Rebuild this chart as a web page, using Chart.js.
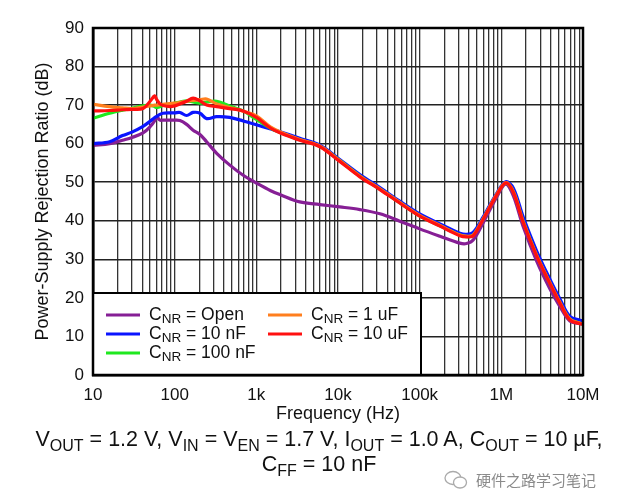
<!DOCTYPE html>
<html>
<head>
<meta charset="utf-8">
<script src="https://cdn.jsdelivr.net/npm/chart.js@4.4.0/dist/chart.umd.min.js"></script>
<style>
  body { margin: 0; background: #fff; width: 623px; height: 499px; position: relative; overflow: hidden; font-family: "Liberation Sans", Arial, sans-serif; }
  #wrap { position: absolute; left: 0; top: 0; width: 623px; height: 430px; }
  #caption { position: absolute; left: 0; top: 427px; width: 638px; text-align: center; font-size: 21.5px; line-height: 25px; color: #111; }
  #caption sub { font-size: 16px; vertical-align: -5px; line-height: 0; }
  #mark { position: absolute; left: 444px; top: 469px; font-family: "Noto Sans CJK SC", sans-serif; font-size: 15px; color: #8a8a8a; display: flex; align-items: center; }
  #mark svg { margin-right: 8px; }
</style>
</head>
<body>
<div id="wrap"><canvas id="canvasChart" width="623" height="430"></canvas></div>
<div id="caption">V<sub>OUT</sub> = 1.2 V, V<sub>IN</sub> = V<sub>EN</sub> = 1.7 V, I<sub>OUT</sub> = 1.0 A, C<sub>OUT</sub> = 10 µF,<br>C<sub>FF</sub> = 10 nF</div>
<div id="mark"><svg width="24" height="20" viewBox="0 0 24 20"><ellipse cx="9" cy="8" rx="8" ry="6.5" fill="none" stroke="#aaa" stroke-width="1.3"/><ellipse cx="16" cy="12.5" rx="6.5" ry="5.5" fill="#fff" stroke="#aaa" stroke-width="1.3"/></svg>硬件之路学习笔记</div>
<script>
// frequency points (Hz) shared by every curve
var freq = [10, 16, 23, 30, 41, 50, 57, 60, 66, 72, 87, 100, 116, 140, 168, 204, 246, 327, 470, 690,
    1000, 1500, 2000, 3400, 6000, 10500, 18500, 32600, 57000, 100000, 177000, 310000, 375000, 452000,
    600000, 870000, 1130000, 1400000, 1850000, 2700000, 3900000, 5200000, 6900000, 9200000, 10000000];

// PSRR in dB, one array per C_NR value
var psrrOpen = [59.5, 60.0, 60.9, 61.6, 62.8, 64.4, 66.0, 67.0, 66.1, 66.1, 66.1, 66.1, 66.0, 65.0, 63.5, 62.4, 60.5, 57.5, 54.5, 51.8,
    49.8, 47.8, 46.7, 44.9, 44.2, 43.6, 42.9, 41.8, 39.9, 37.9, 36.0, 34.2, 34.1, 35.0,
    39.5, 46.0, 49.5, 46.5, 38.5, 29.6, 22.5, 17.8, 14.0, 13.3, 13.2];
var psrr10n = [60.0, 60.5, 62.1, 63.0, 64.5, 65.8, 66.8, 67.0, 67.6, 67.9, 68.0, 68.0, 68.1, 67.3, 68.1, 67.9, 66.5, 67.0, 66.8, 65.9,
    64.9, 63.8, 63.0, 61.4, 59.6, 55.9, 52.0, 48.6, 45.1, 41.8, 39.2, 36.8, 36.5, 37.0,
    41.0, 47.0, 50.1, 48.5, 41.0, 32.2, 25.0, 19.8, 15.2, 14.2, 14.1];
var psrr100n = [66.6, 67.9, 68.7, 69.2, 69.8, 70.0, 69.6, 69.4, 69.6, 69.9, 70.3, 70.5, 70.8, 71.1, 70.8, 70.5, 70.8, 71.0, 69.8, 68.5,
    66.3, 64.0, 62.8, 61.0, 59.3, 55.6, 51.6, 48.2, 44.7, 41.3, 38.7, 36.3, 35.9, 36.3,
    40.5, 46.6, 49.8, 47.6, 39.9, 31.1, 24.0, 18.8, 14.5, 13.4, 13.3];
var psrr1u = [70.2, 69.6, 69.3, 69.1, 69.5, 69.8, 70.0, 70.0, 70.1, 70.2, 70.4, 70.5, 70.7, 71.0, 71.2, 71.4, 71.6, 70.3, 69.4, 68.4,
    67.2, 64.3, 63.0, 61.1, 59.4, 55.6, 51.6, 48.3, 44.8, 41.4, 38.8, 36.3, 36.0, 36.3,
    40.6, 46.7, 49.9, 47.6, 39.8, 31.1, 24.1, 18.9, 14.5, 13.4, 13.3];
var psrr10u = [68.5, 68.6, 68.8, 68.9, 69.1, 71.0, 72.4, 71.5, 70.3, 69.9, 69.6, 69.8, 70.3, 71.0, 71.8, 71.1, 70.0, 69.6, 69.1, 68.5,
    66.8, 64.0, 62.7, 60.9, 59.2, 55.4, 51.4, 48.1, 44.6, 41.2, 38.6, 36.1, 35.8, 36.1,
    40.4, 46.5, 49.8, 47.4, 39.6, 30.9, 23.9, 18.7, 14.3, 13.3, 13.2];

var seriesNames = ['Open', '10 nF', '100 nF', '1 uF', '10 uF'];
var decades = [10, 100, 1000, 10000, 100000, 1000000, 10000000];
var decadeLabels = ['10', '100', '1k', '10k', '100k', '1M', '10M'];
var yTicks = [0, 10, 20, 30, 40, 50, 60, 70, 80, 90];

var colors = ['#861f95', '#0a14ff', '#1fe81f', '#ff7f1e', '#ff1010'];
var allSeries = [psrrOpen, psrr10n, psrr100n, psrr1u, psrr10u];

function toPoints(vals) {
    return freq.map(function (f, i) { return {x: f, y: vals[i]}; });
}

var datasets = allSeries.map(function (vals, i) {
    return {
        label: 'CNR = ' + seriesNames[i],
        data: toPoints(vals),
        borderColor: colors[i],
        borderWidth: 3.2,
        pointRadius: 0,
        tension: 0.35,
        fill: false,
        order: allSeries.length - i
    };
});

// every 1..9 x decade gets a grid line
var xTickValues = [];
decades.forEach(function (d, i) {
    if (i === decades.length - 1) { xTickValues.push(d); return; }
    for (var m = 1; m <= 9; m++) xTickValues.push(m * d);
});

var legendBox = {
    id: 'legendBox',
    afterDatasetsDraw: function (chart) {
        var ctx = chart.ctx;
        var left = chart.chartArea.left, bottom = chart.chartArea.bottom;
        ctx.save();
        ctx.fillStyle = '#fff';
        ctx.fillRect(left, 293, 328, bottom - 293);
        ctx.strokeStyle = '#000';
        ctx.lineWidth = 2;
        ctx.strokeRect(left, 293, 328, bottom - 293);
        var slots = [[106, 315], [106, 334], [106, 353], [268, 315], [268, 334]];
        seriesNames.forEach(function (name, i) {
            var x = slots[i][0], y = slots[i][1];
            ctx.strokeStyle = colors[i];
            ctx.lineWidth = 3;
            ctx.beginPath();
            ctx.moveTo(x, y);
            ctx.lineTo(x + 34, y);
            ctx.stroke();
            ctx.fillStyle = '#111';
            ctx.textBaseline = 'middle';
            ctx.font = '17.5px "Liberation Sans", Arial, sans-serif';
            var tx = x + 43;
            ctx.fillText('C', tx, y);
            tx += ctx.measureText('C').width;
            ctx.font = '13.5px "Liberation Sans", Arial, sans-serif';
            ctx.fillText('NR', tx, y + 4);
            tx += ctx.measureText('NR').width;
            ctx.font = '17.5px "Liberation Sans", Arial, sans-serif';
            ctx.fillText(' = ' + name, tx, y);
        });
        ctx.restore();
    },
    afterDraw: function (chart) {
        var a = chart.chartArea, ctx = chart.ctx;
        ctx.save();
        ctx.strokeStyle = '#000';
        ctx.lineWidth = 2.5;
        ctx.strokeRect(a.left, a.top, a.right - a.left, a.bottom - a.top);
        ctx.restore();
    }
};

var tickFont = {family: '"Liberation Sans", Arial, sans-serif', size: 17};

var chartObject = new Chart(document.getElementById('canvasChart').getContext('2d'), {
    type: 'line',
    data: {datasets: datasets},
    options: {
        responsive: false,
        animation: false,
        layout: {padding: {left: 0, top: 28, right: 40, bottom: 0}},
        plugins: {legend: {display: false}, tooltip: {enabled: false}},
        scales: {
            x: {
                type: 'logarithmic',
                min: 10,
                max: 10000000,
                afterFit: function (s) { s.height = 55; },
                afterBuildTicks: function (s) {
                    s.ticks = xTickValues.map(function (v) { return {value: v}; });
                },
                ticks: {
                    autoSkip: false,
                    maxRotation: 0,
                    padding: 10,
                    color: '#111',
                    font: tickFont,
                    callback: function (v) {
                        var k = decades.indexOf(v);
                        return k >= 0 ? decadeLabels[k] : '';
                    }
                },
                grid: {color: '#333', lineWidth: 1.3, drawTicks: false},
                border: {color: '#000', width: 2.5},
                title: {display: true, text: 'Frequency (Hz)', color: '#111', font: {family: '"Liberation Sans", Arial, sans-serif', size: 18}, padding: {top: 0, bottom: 5}}
            },
            y: {
                min: 0,
                max: 90,
                afterFit: function (s) { s.width = 93; },
                afterBuildTicks: function (s) {
                    s.ticks = yTicks.map(function (v) { return {value: v}; });
                },
                ticks: {padding: 9, color: '#111', font: tickFont},
                grid: {color: '#222', lineWidth: 1.6, drawTicks: false},
                border: {color: '#000', width: 2.5},
                title: {display: true, text: 'Power-Supply Rejection Ratio (dB)', color: '#111', font: {family: '"Liberation Sans", Arial, sans-serif', size: 18}, padding: {top: 32, bottom: 0}}
            }
        }
    },
    plugins: [legendBox]
});
</script>
</body>
</html>
